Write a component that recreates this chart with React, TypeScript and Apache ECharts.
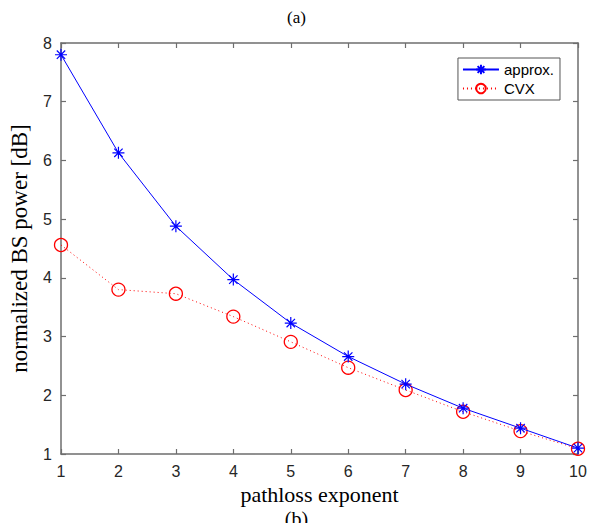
import React, { useEffect, useRef } from "react";
import * as echarts from "echarts";

const xValues = [1, 2, 3, 4, 5, 6, 7, 8, 9, 10];
const approxValues = [7.8, 6.13, 4.88, 3.97, 3.23, 2.66, 2.19, 1.78, 1.44, 1.1];
const cvxValues = [4.56, 3.8, 3.73, 3.34, 2.91, 2.47, 2.09, 1.72, 1.39, 1.09];

const ASTERISK = "path://M10,0L10,20M0,10L20,10M3,3L17,17M3,17L17,3";

export default function App() {
  const ref = useRef<HTMLDivElement>(null);
  useEffect(() => {
    const chart = echarts.init(ref.current!, null, { renderer: "svg" });
    const axisLine = { show: true, lineStyle: { color: "#6e6e6e", width: 1.5 } };
    const tickFont = { fontFamily: "Liberation Sans, Arial", fontSize: 16, color: "#262626" };
    const tick = { inside: true, length: 5, lineStyle: { color: "#6e6e6e", width: 1.2 } };
    chart.setOption({
      animation: false,
      backgroundColor: "#fff",
      title: [
        { text: "(a)", left: "center", top: 4, textStyle: { fontFamily: "Liberation Serif", fontSize: 17, fontWeight: "normal", color: "#000" } },
        { text: "(b)", left: "center", top: 504, textStyle: { fontFamily: "Liberation Serif", fontSize: 20, fontWeight: "normal", color: "#000" } },
      ],
      grid: { left: 57, right: 15, top: 43, bottom: 69, containLabel: false },
      legend: {
        orient: "vertical",
        right: 33,
        top: 58,
        backgroundColor: "#fff",
        borderColor: "#555",
        borderWidth: 1,
        borderRadius: 0,
        padding: [4, 6, 4, 4],
        itemGap: 4,
        itemWidth: 36,
        itemHeight: 12,
        textStyle: { fontFamily: "Liberation Sans, Arial", fontSize: 15, color: "#000" },
        data: ["approx.", "CVX"],
      },
      xAxis: [
        {
          type: "value", min: 1, max: 10, interval: 1,
          name: "pathloss exponent", nameLocation: "middle", nameGap: 28,
          nameTextStyle: { fontFamily: "Liberation Serif", fontSize: 22, color: "#000" },
          axisLine, axisTick: tick,
          axisLabel: { ...tickFont, margin: 9 }, splitLine: { show: false },
        },
        {
          type: "value", min: 1, max: 10, interval: 1, position: "top",
          axisLine, axisTick: tick,
          axisLabel: { show: false }, splitLine: { show: false },
        },
      ],
      yAxis: [
        {
          type: "value", min: 1, max: 8, interval: 1,
          name: "normalized BS power [dB]", nameLocation: "middle", nameGap: 30,
          nameTextStyle: { fontFamily: "Liberation Serif", fontSize: 23, color: "#000" },
          axisLine, axisTick: tick,
          axisLabel: { ...tickFont, margin: 9 }, splitLine: { show: false },
        },
        {
          type: "value", min: 1, max: 8, interval: 1, position: "right",
          axisLine, axisTick: tick,
          axisLabel: { show: false }, splitLine: { show: false },
        },
      ],
      series: [
        {
          name: "approx.", type: "line",
          data: xValues.map((x, i) => [x, approxValues[i]]),
          symbol: ASTERISK, symbolSize: 12,
          lineStyle: { color: "#0000ff", width: 1 },
          itemStyle: { color: "none", borderColor: "#0000ff", borderWidth: 1.2 },
          z: 3,
        },
        {
          name: "CVX", type: "line",
          data: xValues.map((x, i) => [x, cvxValues[i]]),
          symbol: "circle", symbolSize: 13,
          lineStyle: { color: "#ff0000", width: 1, type: [1, 3] },
          itemStyle: { color: "rgba(255,255,255,0)", borderColor: "#ff0000", borderWidth: 1.3 },
          z: 2,
        },
      ],
    });
    return () => chart.dispose();
  }, []);
  return <div ref={ref} style={{ width: 593, height: 523, position: "absolute", left: 0, top: 0 }} />;
}
